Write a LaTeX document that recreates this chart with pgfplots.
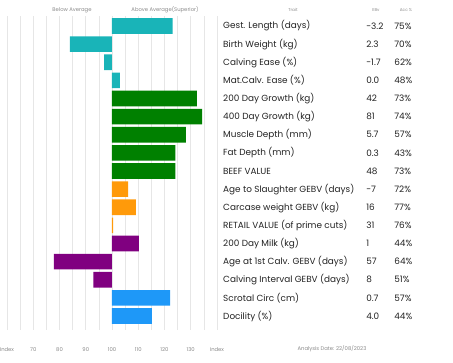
\documentclass[border=0pt]{standalone}
\usepackage{pgfplots}
\pgfplotsset{compat=1.18}
\usepackage{fontspec}
\setmainfont{Poppins}
\definecolor{cteal}{HTML}{19B4B8}
\definecolor{cgreen}{HTML}{008000}
\definecolor{corange}{HTML}{FF9A0A}
\definecolor{cpurple}{HTML}{800080}
\definecolor{cblue}{HTML}{1E98F8}
\definecolor{cgrid}{HTML}{E6E6E6}
\definecolor{ctext}{HTML}{222222}
\definecolor{clight}{HTML}{8A8A8A}
\begin{document}
\begin{tikzpicture}[x=1bp,y=1bp]
\useasboundingbox (0,0) rectangle (453,362);
\begin{axis}[
  at={(7bp,32.4bp)}, anchor=south west,
  scale only axis, width=210bp, height=313.6bp,
  xmin=-40, xmax=40, ymin=0.45, ymax=17.75, y dir=reverse,
  xtick={-40,-30,...,40},
  xticklabels={Index,70,80,90,100,110,120,130,Index},
  minor xtick={-35,-25,...,35},
  xmajorgrids, xminorgrids,
  major grid style={cgrid, line width=0.6pt},
  minor grid style={cgrid, line width=0.6pt},
  ytick=\empty, major tick length=0pt, minor tick length=0pt,
  axis line style={draw=none},
  xticklabel style={font=\fontsize{5.3}{6}\selectfont, text=clight, yshift=-14bp},
  clip=false,
  xbar, bar width=0.86, bar shift=0pt,
]
% index values (average = 100), plotted as offset from 100
\addplot[fill=cteal, draw=none] table[x expr=\thisrow{idx}-100, y=row] {
row idx
1 123.1
2 84.0
3 97.0
4 103.0
};
\addplot[fill=cgreen, draw=none] table[x expr=\thisrow{idx}-100, y=row] {
row idx
5 132.3
6 134.3
7 128.1
8 124.1
9 124.1
};
\addplot[fill=corange, draw=none] table[x expr=\thisrow{idx}-100, y=row] {
row idx
10 106.1
11 109.1
12 100.4
};
\addplot[fill=cpurple, draw=none] table[x expr=\thisrow{idx}-100, y=row] {
row idx
13 110.2
14 77.9
15 92.9
};
\addplot[fill=cblue, draw=none] table[x expr=\thisrow{idx}-100, y=row] {
row idx
16 122.1
17 115.2
};
\begin{scope}[every node/.style={font=\fontsize{8.9}{10}\selectfont, text=ctext, anchor=west, inner sep=0pt}]
\node at (axis cs:42.3,1) {Gest. Length (days)};
\node at (axis cs:42.3,2) {Birth Weight (kg)};
\node at (axis cs:42.3,3) {Calving Ease (\%)};
\node at (axis cs:42.3,4) {Mat.Calv. Ease (\%)};
\node at (axis cs:42.3,5) {200 Day Growth (kg)};
\node at (axis cs:42.3,6) {400 Day Growth (kg)};
\node at (axis cs:42.3,7) {Muscle Depth (mm)};
\node at (axis cs:42.3,8) {Fat Depth (mm)};
\node at (axis cs:42.3,9) {BEEF VALUE};
\node at (axis cs:42.3,10) {Age to Slaughter GEBV (days)};
\node at (axis cs:42.3,11) {Carcase weight GEBV (kg)};
\node at (axis cs:42.3,12) {RETAIL VALUE (of prime cuts)};
\node at (axis cs:42.3,13) {200 Day Milk (kg)};
\node at (axis cs:42.3,14) {Age at 1st Calv. GEBV (days)};
\node at (axis cs:42.3,15) {Calving Interval GEBV (days)};
\node at (axis cs:42.3,16) {Scrotal Circ (cm)};
\node at (axis cs:42.3,17) {Docility (\%)};
\node at (axis cs:96.8,1) {-3.2};
\node at (axis cs:96.8,2) {2.3};
\node at (axis cs:96.8,3) {-1.7};
\node at (axis cs:96.8,4) {0.0};
\node at (axis cs:96.8,5) {42};
\node at (axis cs:96.8,6) {81};
\node at (axis cs:96.8,7) {5.7};
\node at (axis cs:96.8,8) {0.3};
\node at (axis cs:96.8,9) {48};
\node at (axis cs:96.8,10) {-7};
\node at (axis cs:96.8,11) {16};
\node at (axis cs:96.8,12) {31};
\node at (axis cs:96.8,13) {1};
\node at (axis cs:96.8,14) {57};
\node at (axis cs:96.8,15) {8};
\node at (axis cs:96.8,16) {0.7};
\node at (axis cs:96.8,17) {4.0};
\node at (axis cs:107.5,1) {75\%};
\node at (axis cs:107.5,2) {70\%};
\node at (axis cs:107.5,3) {62\%};
\node at (axis cs:107.5,4) {48\%};
\node at (axis cs:107.5,5) {73\%};
\node at (axis cs:107.5,6) {74\%};
\node at (axis cs:107.5,7) {57\%};
\node at (axis cs:107.5,8) {43\%};
\node at (axis cs:107.5,9) {73\%};
\node at (axis cs:107.5,10) {72\%};
\node at (axis cs:107.5,11) {77\%};
\node at (axis cs:107.5,12) {76\%};
\node at (axis cs:107.5,13) {44\%};
\node at (axis cs:107.5,14) {64\%};
\node at (axis cs:107.5,15) {51\%};
\node at (axis cs:107.5,16) {57\%};
\node at (axis cs:107.5,17) {44\%};
\end{scope}
\end{axis}
\begin{scope}[every node/.style={text=clight, inner sep=0pt}]
\node[font=\fontsize{5.3}{6}\selectfont] at (72,352) {Below Average};
\node[font=\fontsize{5.3}{6}\selectfont] at (165,352) {Above Average(Superior)};
\node[font=\fontsize{4.2}{5}\selectfont] at (293,352) {Trait};
\node[font=\fontsize{4.2}{5}\selectfont] at (376,352) {EBv};
\node[font=\fontsize{4.2}{5}\selectfont] at (406,352) {Acc \%};
\node[font=\fontsize{5.3}{6}\selectfont] at (332,13) {Analysis Date: 22/08/2023};
\end{scope}
\end{tikzpicture}
\end{document}
